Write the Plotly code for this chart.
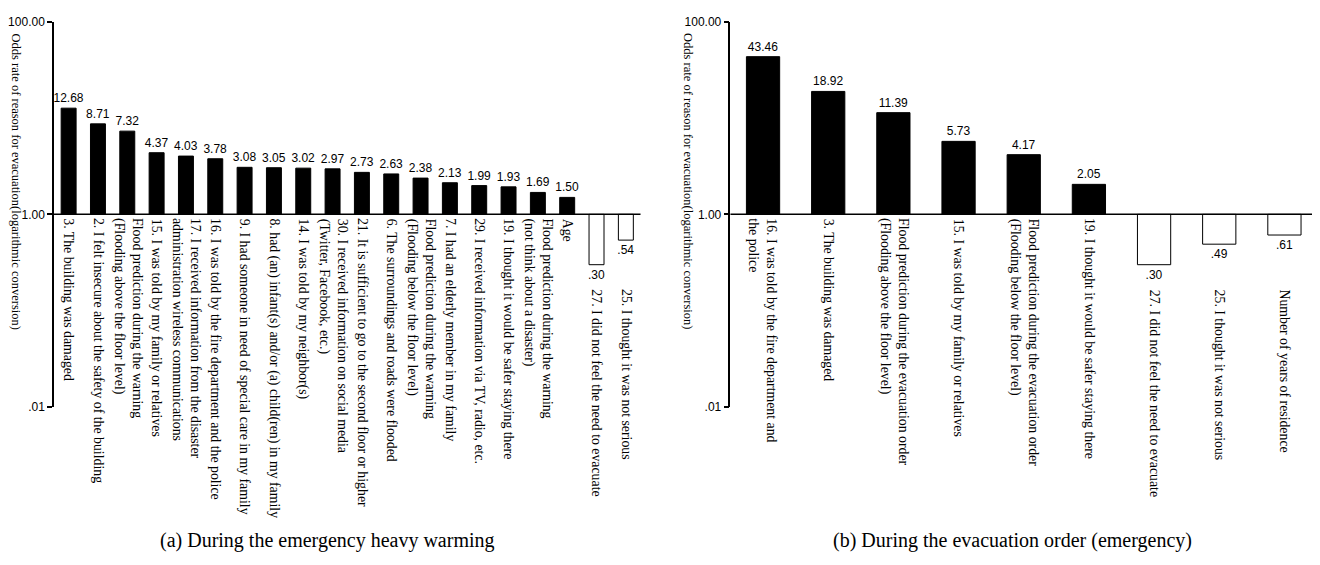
import plotly.graph_objects as go

# ---------------- data ----------------
cats_a = [
    "3. The building was damaged",
    "2. I felt insecure about the safety of the building",
    "Flood prediction during the warning<br>(Flooding above the floor level)",
    "15. I was told by my family or relatives",
    "17. I received information from the disaster<br>administration wireless communications",
    "16. I was told by the fire department and the police",
    "9. I had someone in need of special care in my family",
    "8. had (an) infant(s) and/or (a) child(ren) in my family",
    "14. I was told by my neighbor(s)",
    "30. I received information on social media<br>(Twitter, Facebook, etc.)",
    "21. It is sufficient to go to the second floor or higher",
    "6. The surroundings and roads were flooded",
    "Flood prediction during the warning<br>(Flooding below the floor level)",
    "7. I had an elderly member in my family",
    "29. I received information via TV, radio, etc.",
    "19. I thought it would be safer staying there",
    "Flood prediction during the warning<br>(not think about a disaster)",
    "Age",
    "27. I did not feel the need to evacuate",
    "25. I thought it was not serious",
]
vals_a = [12.68, 8.71, 7.32, 4.37, 4.03, 3.78, 3.08, 3.05, 3.02, 2.97,
          2.73, 2.63, 2.38, 2.13, 1.99, 1.93, 1.69, 1.50, 0.30, 0.54]

cats_b = [
    "16. I was told by the fire department and<br>the police",
    "3. The building was damaged",
    "Flood prediction during the evacuation order<br>(Flooding above the floor level)",
    "15. I was told by my family or relatives",
    "Flood prediction during the evacuation order<br>(Flooding below the floor level)",
    "19. I thought it would be safer staying there",
    "27. I did not feel the need to evacuate",
    "25. I thought it was not serious",
    "Number of years of residence",
]
vals_b = [43.46, 18.92, 11.39, 5.73, 4.17, 2.05, 0.30, 0.49, 0.61]

y_ticks = [0.01, 1, 100]
y_tick_text = [".01", "1.00", "100.00"]
y_title = "Odds rate of reason for evacuation(logarithmic conversion)"
captions = ["(a) During the emergency heavy warming",
            "(b) During the evacuation order (emergency)"]

SERIF = "Liberation Serif, Times New Roman, serif"
SANS = "Liberation Sans, Arial, sans-serif"

# page body has an 8px margin; lay out in page pixels
OFF = 8
W, H = 1320 - OFF, 565 - OFF


def xp(px):
    return (px - OFF) / W


def yp(py):
    return 1 - (py - OFF) / H


def fmt(v):
    s = f"{v:.2f}"
    return s[1:] if s.startswith("0") else s


fig = go.Figure()
panels = [(cats_a, vals_a, "x", "y"), (cats_b, vals_b, "x2", "y2")]
for cats, vals, xa, ya in panels:
    fig.add_trace(go.Bar(
        x=cats, y=[v - 1 for v in vals], base=1,
        xaxis=xa, yaxis=ya,
        marker=dict(color=["black" if v >= 1 else "white" for v in vals],
                    line=dict(color="black", width=1)),
        text=[fmt(v) for v in vals], textposition="outside",
        textfont=dict(family=SANS, size=12, color="black"),
        constraintext="none", cliponaxis=False, showlegend=False,
        hoverinfo="skip",
    ))
    for c, v in zip(cats, vals):
        fig.add_annotation(
            x=c, y=0, xref=xa, yref=ya, text=c, textangle=90,
            xanchor="center", yanchor="top", align="left", showarrow=False,
            yshift=-2 if v >= 1 else -73,
            font=dict(family=SERIF, size=13.8, color="black"),
        )
    fig.add_shape(type="line", xref=f"{xa} domain", yref=ya,
                  x0=0, x1=1, y0=1, y1=1,
                  line=dict(color="black", width=1.5))

axis_y = dict(type="log", range=[-2, 2], tickvals=y_ticks, ticktext=y_tick_text,
              showline=True, linecolor="black", linewidth=1.5,
              ticks="outside", ticklen=5, tickcolor="black", tickwidth=1.5,
              showgrid=False, zeroline=False,
              tickfont=dict(family=SANS, size=12, color="black"),
              domain=[yp(410), yp(15)])
axis_x = dict(showticklabels=False, showline=False, showgrid=False,
              zeroline=False, ticks="")

fig.update_layout(
    width=W, height=H,
    margin=dict(l=0, r=0, t=0, b=0),
    paper_bgcolor="white", plot_bgcolor="white",
    bargap=0.49,
    xaxis=dict(axis_x, domain=[xp(53), xp(640)], anchor="y"),
    xaxis2=dict(axis_x, domain=[xp(730), xp(1317)], anchor="y2"),
    yaxis=dict(axis_y, anchor="x"),
    yaxis2=dict(axis_y, anchor="x2"),
)

# y-axis titles (read top-to-bottom)
for xpos in [15, 688]:
    fig.add_annotation(x=xp(xpos), y=yp(25), xref="paper", yref="paper",
                       text=y_title, textangle=90, showarrow=False,
                       xanchor="center", yanchor="top",
                       font=dict(family=SERIF, size=12.5, color="black"))

for cap, xc in zip(captions, [327, 1012]):
    fig.add_annotation(x=xp(xc), y=yp(547), xref="paper", yref="paper",
                       text=cap, showarrow=False, xanchor="center",
                       yanchor="middle",
                       font=dict(family=SERIF, size=20, color="black"))

fig.write_html("out.html")
